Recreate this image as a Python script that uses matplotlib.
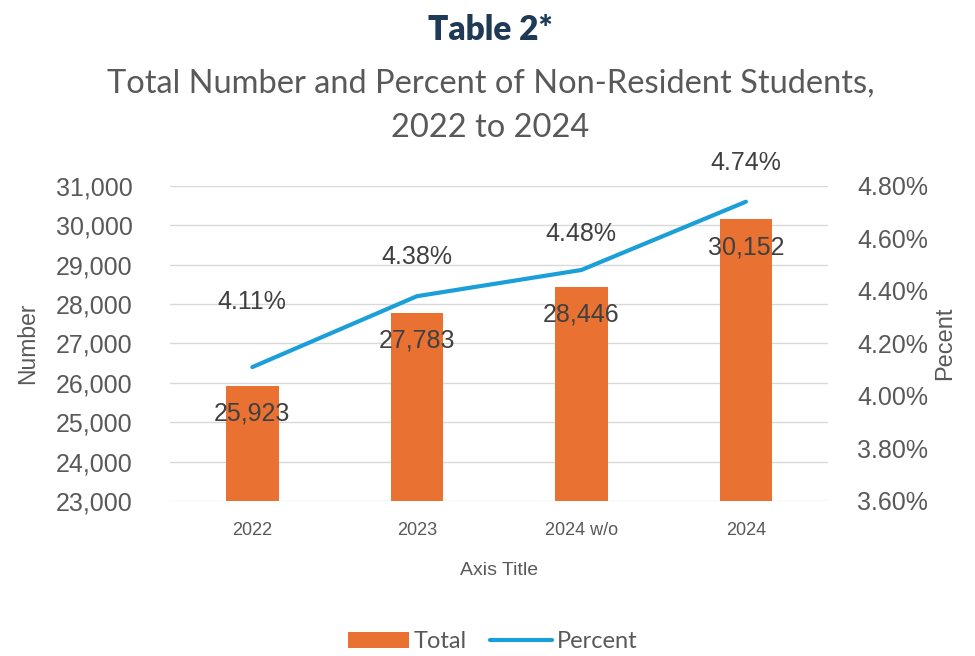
import matplotlib.pyplot as plt
import numpy as np
from matplotlib.ticker import FuncFormatter

# dados
categorias = ['2022', '2023', '2024 w/o', '2024']
total = [25923, 27783, 28446, 30152]
percent = [4.11, 4.38, 4.48, 4.74]
# deslocamento vertical dos rótulos da linha (pt)
off_pct = [47, 28, 26, 28]

cinza = '#595959'
laranja = '#E97132'
azul = '#1A9FD9'
fam_estreita = ['DejaVu Sans Condensed', 'Liberation Sans Narrow', 'Liberation Sans']

fig = plt.figure(figsize=(9.75, 6.56), dpi=100)
ax = fig.add_axes([0.1744, 0.2363, 0.6750, 0.4802])
ax2 = ax.twinx()

x = np.arange(len(categorias))
bars = ax.bar(x, total, width=0.32, color=laranja, zorder=2, label='Total')
ax.set_ylim(23000, 31000)
ax.set_xlim(-0.5, 3.5)
ax.set_yticks(np.arange(23000, 31001, 1000))
ax.yaxis.set_major_formatter(FuncFormatter(lambda v, p: f'{v:,.0f}'))
ax.grid(axis='y', color='#D9D9D9', lw=1, zorder=0)
ax.set_axisbelow(True)
ax.set_xticks(x)
ax.set_xticklabels(categorias, family=fam_estreita, fontsize=13, color=cinza)
ax.tick_params(axis='y', length=0, labelsize=18, labelcolor=cinza, pad=27)
ax.tick_params(axis='x', length=0, pad=15)
for s in ax.spines.values():
    s.set_visible(False)
for s in ax2.spines.values():
    s.set_visible(False)
for lab in ax.get_yticklabels():
    lab.set_family('Liberation Sans')

for b, v in zip(bars, total):
    ax.annotate(f'{v:,}', (b.get_x() + b.get_width() / 2, v), xytext=(0, -20),
                textcoords='offset points', ha='center', va='center',
                fontsize=18, color='#404040', family='Liberation Sans', zorder=5)

ax2.plot(x, percent, color=azul, lw=3, solid_capstyle='round', label='Percent', zorder=3)
ax2.set_ylim(3.6, 4.8)
ax2.set_yticks(np.arange(3.6, 4.81, 0.2))
ax2.yaxis.set_major_formatter(FuncFormatter(lambda v, p: f'{v:.2f}%'))
ax2.tick_params(axis='y', length=0, labelsize=18, labelcolor=cinza, pad=21)
for lab in ax2.get_yticklabels():
    lab.set_family('Liberation Sans')
for xi, v, o in zip(x, percent, off_pct):
    ax2.annotate(f'{v:.2f}%', (xi, v), xytext=(0, o), textcoords='offset points',
                 ha='center', va='center', fontsize=18, color='#404040', family='Liberation Sans')

ax.set_ylabel('Number', fontsize=16.5, color=cinza, family='Liberation Sans', labelpad=12)
ax2.set_ylabel('Pecent', fontsize=17, color=cinza, family='Liberation Sans', labelpad=4)
ax.set_xlabel('Axis Title', fontsize=14, color=cinza, family=fam_estreita, labelpad=17)

fig.text(0.503, 0.955, 'Table 2*', ha='center', va='center', fontsize=24,
         fontweight='heavy', color='#1F3A56', family=['Lato', 'DejaVu Sans'])
fig.text(0.503, 0.872, 'Total Number and Percent of Non-Resident Students,',
         ha='center', va='center', fontsize=23.5, color=cinza, family=['Lato', 'DejaVu Sans'])
fig.text(0.503, 0.805, '2022 to 2024',
         ha='center', va='center', fontsize=23.5, color=cinza, family=['Lato', 'DejaVu Sans'])

h1, l1 = ax.get_legend_handles_labels()
h2, l2 = ax2.get_legend_handles_labels()
fig.legend(h1 + h2, l1 + l2, loc='center', bbox_to_anchor=(0.505, 0.022), ncol=2,
           frameon=False, prop={'family': 'Lato', 'size': 17}, labelcolor=cinza,
           handlelength=2.6, handletextpad=0.2, columnspacing=1.0)

fig.savefig('out.png', dpi=100)
